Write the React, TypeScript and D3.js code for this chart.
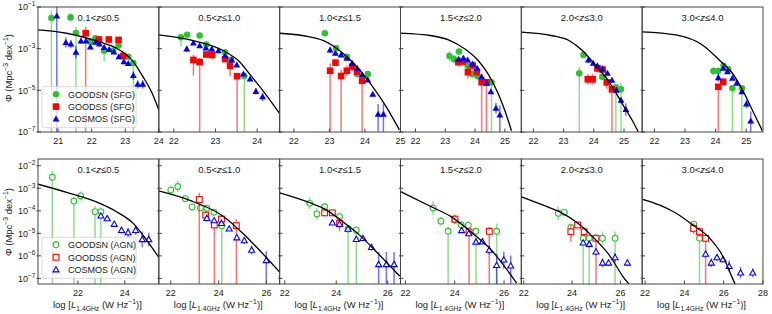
import * as d3 from 'd3'

// [logL, logPhi, err down (null = down to the axis floor), err up]
type Pt = [number, number, number | null, number]

// ---- top row: star-forming galaxies ----
const sfgN: Pt[][] = [
  [[20.80, -1.53, null, 0.35], [21.37, -1.50, 0.2, 0.2], [21.53, -2.25, null, 0.3], [21.96, -2.67, 0.15, 0.15], [22.11, -2.50, 0.1, 0.1], [22.37, -3.10, 0.5, 0.2], [22.64, -3.09, 0.15, 0.15], [22.80, -2.85, 0.1, 0.1], [23.09, -3.39, 0.15, 0.15], [23.24, -3.69, null, 0.15]],
  [[22.17, -2.45, 0.45, 0.15], [22.32, -2.33, 0.1, 0.1], [22.62, -2.37, 0.15, 0.15], [22.78, -2.80, 0.1, 0.1], [23.23, -3.17, 0.15, 0.15], [23.37, -3.54, 0.1, 0.1], [23.69, -4.31, null, 0.1]],
  [[22.87, -2.26, 0.1, 0.1], [23.19, -2.98, 0.1, 0.1], [23.49, -3.39, 0.1, 0.1], [23.78, -4.22, 0.15, 0.15], [24.08, -4.22, 0.15, 0.15]],
  [[23.14, -3.35, 0.25, 0.25], [23.29, -3.50, 0.2, 0.2], [23.46, -3.14, 0.15, 0.15], [23.75, -3.82, 0.2, 0.2], [23.91, -4.22, 0.2, 0.2], [24.08, -4.31, 0.2, 0.2], [24.55, -4.61, null, 0.1]],
  [[23.52, -4.18, null, 0.3], [23.66, -3.30, 0.1, 0.1], [24.28, -4.35, 0.15, 0.15], [24.73, -4.86, null, 0.1], [24.90, -4.95, null, 0.3]],
  [[23.93, -4.07, 0.2, 0.2], [24.09, -4.07, 0.15, 0.15], [24.26, -3.82, 0.1, 0.1], [24.41, -3.99, 0.15, 0.15], [24.55, -4.90, null, 0.1], [24.86, -4.90, null, 0.15]],
]
const sfgS: Pt[][] = [
  [[21.82, -2.26, null, 0.3], [22.22, -2.56, 0.15, 0.15], [22.51, -2.56, 0.1, 0.1], [22.80, -2.58, 0.1, 0.1], [22.94, -3.35, 0.25, 0.25]],
  [[22.47, -3.54, 0.75, 0.25], [22.62, -3.64, null, 0.2], [22.78, -3.28, 0.15, 0.15], [22.92, -3.30, 0.2, 0.2], [23.23, -3.50, 0.15, 0.15], [23.35, -3.82, 0.5, 0.2], [23.52, -4.32, null, 0.15]],
  [[23.02, -4.06, null, 0.35], [23.17, -3.67, 0.15, 0.15], [23.33, -4.31, null, 0.3], [23.49, -4.06, 0.25, 0.25], [23.64, -3.87, 0.2, 0.2], [23.78, -4.11, 0.15, 0.15], [23.92, -4.54, null, 0.15]],
  [[23.44, -3.65, 0.2, 0.2], [23.59, -3.62, 0.15, 0.15], [23.76, -4.13, 0.3, 0.3], [23.92, -3.81, 0.15, 0.15], [24.06, -4.12, 0.2, 0.2], [24.22, -4.61, null, 0.15], [24.38, -4.61, null, 0.15]],
  [[23.80, -4.47, 0.25, 0.25], [23.96, -4.47, 0.25, 0.25], [24.12, -3.95, 0.2, 0.2], [24.29, -4.00, 0.2, 0.2], [24.43, -4.62, 0.3, 0.3], [24.60, -4.95, null, 0.1]],
  [[24.09, -4.83, null, 0.15], [24.25, -4.59, 0.2, 0.2]],
]
const sfgC: Pt[][] = [
  [[20.96, -1.43, null, 0.6], [21.23, -2.70, 0.25, 0.25], [21.38, -2.78, 0.2, 0.2], [21.53, -3.17, 0.3, 0.3], [21.68, -2.63, 0.15, 0.15], [21.83, -2.63, 0.1, 0.1], [21.96, -2.92, 0.1, 0.1], [22.11, -2.69, 0.1, 0.1], [22.23, -2.78, 0.1, 0.1], [22.37, -2.94, 0.1, 0.1], [22.52, -3.04, 0.1, 0.1], [22.66, -3.16, 0.1, 0.1], [22.81, -3.39, 0.1, 0.1], [22.96, -3.63, 0.1, 0.1], [23.09, -3.71, 0.1, 0.1], [23.24, -4.29, 0.2, 0.2], [23.37, -4.71, 0.2, 0.2], [23.52, -4.71, 0.2, 0.2]],
  [[22.31, -3.02, 0.15, 0.15], [22.47, -2.73, 0.1, 0.1], [22.62, -2.86, 0.1, 0.1], [22.77, -2.97, 0.1, 0.1], [22.91, -3.02, 0.1, 0.1], [23.07, -3.10, 0.1, 0.1], [23.23, -3.34, 0.1, 0.1], [23.39, -3.54, 0.1, 0.1], [23.51, -3.78, 0.1, 0.1], [23.67, -4.22, 0.1, 0.1], [23.83, -4.46, 0.1, 0.1], [23.97, -5.05, 0.15, 0.15], [24.13, -5.31, 0.2, 0.2]],
  [[23.02, -3.06, 0.15, 0.15], [23.17, -3.22, 0.1, 0.1], [23.33, -3.30, 0.1, 0.1], [23.49, -3.46, 0.1, 0.1], [23.64, -3.70, 0.1, 0.1], [23.78, -3.94, 0.1, 0.1], [23.92, -4.26, 0.1, 0.1], [24.08, -4.50, 0.1, 0.1], [24.22, -5.19, 0.1, 0.1], [24.37, -6.15, null, 0.5], [24.52, -6.15, null, 0.5]],
  [[23.45, -3.51, 0.1, 0.1], [23.61, -3.46, 0.1, 0.1], [23.75, -3.54, 0.1, 0.1], [23.92, -3.74, 0.1, 0.1], [24.07, -3.94, 0.1, 0.1], [24.22, -4.35, 0.1, 0.1], [24.39, -4.66, 0.1, 0.1], [24.53, -5.07, 0.1, 0.1], [24.70, -5.86, 0.25, 0.25], [24.83, -6.18, null, 0.45]],
  [[23.82, -3.54, 0.15, 0.15], [23.98, -3.70, 0.1, 0.1], [24.12, -3.82, 0.1, 0.1], [24.29, -3.98, 0.1, 0.1], [24.45, -4.18, 0.1, 0.1], [24.60, -4.52, 0.1, 0.1], [24.75, -5.00, 0.1, 0.1], [24.90, -5.48, 0.15, 0.15], [25.06, -5.92, 0.3, 0.3]],
  [[24.09, -4.39, 0.2, 0.2], [24.25, -3.94, 0.1, 0.1], [24.39, -4.11, 0.1, 0.1], [24.55, -4.42, 0.1, 0.1], [24.69, -4.66, 0.1, 0.1], [24.86, -5.07, 0.1, 0.1], [25.01, -5.66, 0.2, 0.2], [25.15, -6.47, null, 0.45]],
]
// fitted LF
const sfgFit: number[][][] = [
  [[20.4, -2.10], [21.25, -2.26], [22.25, -2.69], [22.74, -2.98], [23.24, -3.63], [23.53, -4.35], [23.78, -5.07], [24.0, -5.94]],
  [[21.63, -2.34], [22.39, -2.58], [23.19, -3.10], [23.59, -3.65], [23.83, -4.25], [24.15, -5.05], [24.55, -6.14]],
  [[21.6, -2.26], [22.44, -2.43], [22.91, -2.67], [23.38, -3.22], [23.85, -4.02], [24.22, -4.83], [24.60, -5.79], [24.97, -6.90]],
  [[21.49, -2.25], [22.55, -2.38], [23.11, -2.58], [23.66, -3.02], [24.11, -3.58], [24.44, -4.22], [24.78, -5.18], [25.0, -5.98], [25.22, -6.94]],
  [[21.59, -2.21], [22.63, -2.38], [23.19, -2.62], [23.63, -3.10], [24.07, -3.82], [24.51, -4.61], [24.95, -5.66], [25.28, -6.46], [25.48, -7.02]],
  [[21.6, -2.19], [22.70, -2.34], [23.57, -2.82], [24.12, -3.54], [24.55, -4.18], [24.88, -4.98], [25.20, -5.94], [25.53, -6.94]],
]

// ---- bottom row: AGN ----
const agnN: Pt[][] = [
  [[20.91, -2.51, null, 0.3], [21.83, -3.57, null, 0.2], [22.12, -3.34, 0.2, 0.2], [22.73, -4.04, null, 0.25], [22.98, -4.04, null, 0.2]],
  [[22.00, -3.08, 0.2, 0.2], [22.29, -2.92, 0.25, 0.25], [22.61, -3.46, 0.15, 0.15], [22.89, -3.83, 0.15, 0.15], [23.24, -3.88, 0.1, 0.1], [23.51, -3.89, 0.1, 0.1], [23.80, -4.06, 0.15, 0.15], [24.13, -4.66, null, 0.1]],
  [[22.97, -3.67, 0.25, 0.25], [23.25, -4.14, 0.25, 0.25], [23.55, -3.82, 0.15, 0.15], [24.13, -4.26, 0.15, 0.15], [24.46, -4.81, null, 0.15], [24.78, -4.86, null, 0.15]],
  [[23.12, -3.88, 0.3, 0.3], [23.44, -4.46, 0.2, 0.2], [23.73, -4.91, null, 0.2], [23.99, -4.40, 0.2, 0.2], [24.26, -4.63, 0.15, 0.15], [24.55, -4.65, 0.2, 0.2], [24.86, -4.91, null, 0.15], [25.70, -4.91, null, 0.35]],
  [[23.43, -4.11, 0.3, 0.3], [23.68, -4.07, 0.1, 0.1], [23.95, -4.74, 0.2, 0.2], [24.46, -5.22, null, 0.15], [24.71, -5.22, null, 0.15], [25.26, -5.22, 0.3, 0.3], [25.78, -5.22, null, 0.3]],
  [[24.48, -4.59, 0.15, 0.15], [24.77, -5.22, null, 0.15]],
]
const agnS: Pt[][] = [
  [],
  [[23.19, -3.50, null, 0.3], [23.46, -4.19, 0.15, 0.15], [23.82, -4.63, null, 0.2], [24.12, -4.37, 0.2, 0.2], [24.74, -4.66, null, 0.3]],
  [[23.55, -4.09, 0.15, 0.15], [23.85, -4.09, 0.1, 0.1], [24.13, -4.56, 0.35, 0.25]],
  [[24.01, -4.37, 0.2, 0.2], [24.58, -4.94, null, 0.2], [25.40, -4.91, null, 0.2]],
  [[23.95, -4.93, 0.45, 0.3], [24.23, -4.63, 0.1, 0.1], [24.50, -4.93, 0.2, 0.2], [24.99, -5.22, null, 0.2]],
  [[24.47, -4.78, 0.25, 0.25], [24.77, -4.93, 0.2, 0.2], [25.08, -5.22, null, 0.2]],
]
const agnC: Pt[][] = [
  [[22.98, -4.22, 0.05, 0.05], [23.25, -4.34, 0.05, 0.05], [23.55, -4.59, 0.1, 0.1], [23.86, -4.86, 0.15, 0.15], [24.14, -4.96, 0.2, 0.2], [24.46, -4.86, 0.2, 0.2], [24.74, -5.27, 0.35, 0.35], [25.02, -5.27, 0.3, 0.3]],
  [[23.51, -4.33, 0.15, 0.15], [23.81, -4.43, 0.1, 0.1], [24.12, -4.55, 0.1, 0.1], [24.44, -4.80, 0.05, 0.05], [24.76, -5.19, 0.1, 0.1], [25.07, -5.32, 0.15, 0.15], [25.38, -5.74, 0.2, 0.2], [25.99, -6.20, null, 0.4]],
  [[23.85, -4.53, 0.1, 0.1], [24.13, -4.59, 0.15, 0.15], [24.46, -4.81, 0.1, 0.1], [24.78, -5.26, 0.1, 0.1], [25.04, -5.22, 0.1, 0.1], [25.37, -5.62, 0.15, 0.15], [25.65, -6.38, null, 0.55], [25.95, -6.38, null, 0.55], [26.25, -6.38, null, 0.55]],
  [[24.28, -4.87, 0.1, 0.1], [24.57, -5.01, 0.1, 0.1], [24.86, -5.38, 0.1, 0.1], [25.12, -5.37, 0.1, 0.1], [25.40, -5.74, 0.2, 0.2], [25.70, -6.42, null, 0.5], [25.99, -6.17, 0.4, 0.35], [26.27, -6.44, null, 0.45]],
  [[24.46, -5.42, 0.1, 0.1], [24.71, -5.48, 0.15, 0.15], [24.99, -5.82, 0.15, 0.15], [25.26, -6.31, 0.2, 0.2], [25.51, -6.31, 0.15, 0.15], [25.78, -6.07, 0.2, 0.2], [26.29, -6.31, 0.15, 0.15]],
  [[25.08, -5.92, 0.15, 0.15], [25.37, -6.31, 0.2, 0.2], [25.66, -6.07, 0.15, 0.15], [25.97, -6.16, 0.15, 0.15], [26.28, -6.46, 0.25, 0.25], [26.86, -6.75, 0.25, 0.25], [27.48, -6.75, 0.2, 0.2]],
]
const agnFit: number[][][] = [
  [[20.3, -2.82], [21.52, -3.18], [22.94, -3.67], [23.65, -4.04], [24.36, -4.56], [24.93, -5.30], [25.45, -6.07]],
  [[21.49, -3.12], [22.80, -3.54], [24.20, -4.25], [25.03, -5.02], [25.58, -5.61], [26.55, -6.72]],
  [[21.8, -3.20], [22.97, -3.64], [23.62, -3.97], [24.26, -4.49], [24.91, -5.08], [25.56, -5.82], [26.47, -6.90]],
  [[21.79, -3.14], [23.07, -3.83], [23.88, -4.28], [24.82, -5.09], [25.50, -5.76], [26.04, -6.50], [26.51, -7.21]],
  [[21.91, -3.38], [22.78, -3.74], [23.47, -4.04], [24.16, -4.49], [24.85, -5.15], [25.54, -5.97], [26.16, -7.00], [26.35, -7.25]],
  [[21.87, -3.49], [22.72, -3.74], [23.58, -4.11], [24.43, -4.63], [25.29, -5.22], [25.97, -6.04], [26.45, -7.00], [26.58, -7.25]],
]

const zEdges = ['0.1', '0.5', '1.0', '1.5', '2.0', '3.0', '4.0']
const topXDomains = [[20.4, 24], [21.64, 24.54], [21.6, 25], [21.5, 25.55], [21.6, 25.6], [21.6, 25.55]]
const botXDomains = [[20.3, 25.45], [21.5, 26.55], [21.8, 26.5], [21.8, 26.7], [21.9, 26.9], [21.85, 28]]
const topXTicks = [[21, 22, 23, 24], [22, 23, 24], [22, 23, 24, 25], [22, 23, 24, 25], [22, 23, 24, 25], [22, 23, 24, 25]]
const botXTicks = [[22, 24], [22, 24, 26], [22, 24, 26], [22, 24, 26], [22, 24, 26], [22, 24, 26, 28]]
const topYTicks = [-1, -3, -5, -7]
const botYTicks = [-2, -3, -4, -5, -6, -7]
const surveys = ['GOODSN', 'GOODSS', 'COSMOS']

const COLORS = ['#2fc42f', '#ff0000', '#0000ff']
const SHAPES = ['circle', 'square', 'triangle']
const FONT = "'Liberation Sans', Arial, Helvetica, sans-serif"
const X0 = 38
const PW = 120.83
const ROWS = [
  { y0: 7, y1: 132, yDom: [-7, -1] },
  { y0: 159, y1: 284, yDom: [-7.25, -1.7] },
]

const triPath = d3.symbol(d3.symbolTriangle, 21)() as string
const triPathOpen = d3.symbol(d3.symbolTriangle, 16)() as string

function Marker({ shape, x, y, color, open }: { shape: string; x: number; y: number; color: string; open: boolean }) {
  const fill = open ? '#fff' : color
  const sw = open ? 1.1 : 0
  if (shape === 'circle') return <circle cx={x} cy={y} r={open ? 2.9 : 3.3} fill={fill} stroke={color} strokeWidth={sw} />
  if (shape === 'square') {
    const h = open ? 2.9 : 3.3
    return <rect x={x - h} y={y - h} width={2 * h} height={2 * h} fill={fill} stroke={color} strokeWidth={sw} />
  }
  return <path d={open ? triPathOpen : triPath} transform={`translate(${x},${y + 0.5})`} fill={fill} stroke={color} strokeWidth={sw} />
}

function Pow({ x, y, e }: { x: number; y: number; e: number }) {
  return (
    <text x={x} y={y} textAnchor="end" fontSize={9} fill="#222">
      10<tspan dy={-4} fontSize={6.5}>{'\u2212' + Math.abs(e)}</tspan>
    </text>
  )
}

function Panel({ row, i }: { row: number; i: number }) {
  const R = ROWS[row]
  const x0 = X0 + i * PW
  const x = d3.scaleLinear().domain(row === 0 ? topXDomains[i] : botXDomains[i]).range([x0, x0 + PW])
  const y = d3.scaleLinear().domain(R.yDom).range([R.y1, R.y0])
  const series = row === 0 ? [sfgN[i], sfgS[i], sfgC[i]] : [agnN[i], agnS[i], agnC[i]]
  const fit = row === 0 ? sfgFit[i] : agnFit[i]
  const line = d3.line<number[]>().x((d) => x(d[0])).y((d) => y(d[1])).curve(d3.curveMonotoneX)
  const clipId = `clip-${row}-${i}`
  const xTicks = row === 0 ? topXTicks[i] : botXTicks[i]
  const yTicks = row === 0 ? topYTicks : botYTicks
  const cx = x0 + PW / 2
  return (
    <g>
      <defs>
        <clipPath id={clipId}>
          <rect x={x0} y={R.y0} width={PW} height={R.y1 - R.y0} />
        </clipPath>
      </defs>
      <g clipPath={`url(#${clipId})`}>
        {series.map((pts, s) => (
          <g key={s}>
            {pts.map((p, k) => {
              const top = y(Math.min(p[1] + p[3], R.yDom[1] + 0.5))
              const bot = p[2] === null ? R.y1 + 2 : y(p[1] - p[2])
              return (
                <line key={k} x1={x(p[0])} x2={x(p[0])} y1={top} y2={bot} stroke={COLORS[s]} strokeWidth={1.5} strokeOpacity={0.55} />
              )
            })}
            {pts.map((p, k) => (
              <Marker key={k} shape={SHAPES[s]} x={x(p[0])} y={y(p[1])} color={COLORS[s]} open={row === 1} />
            ))}
          </g>
        ))}
        <path d={line(fit) as string} fill="none" stroke="#000" strokeWidth={1.3} />
      </g>
      <rect x={x0} y={R.y0} width={PW} height={R.y1 - R.y0} fill="none" stroke="#444" strokeWidth={1} />
      {xTicks.map((t) => (
        <g key={t}>
          <line x1={x(t)} x2={x(t)} y1={R.y1} y2={R.y1 - 3.5} stroke="#444" />
          <text x={x(t)} y={R.y1 + 11.5} textAnchor="middle" fontSize={9} fill="#222">{t}</text>
        </g>
      ))}
      {yTicks.map((t) => (
        <line key={t} x1={x0 - 1.5} x2={x0 + 3} y1={y(t)} y2={y(t)} stroke="#444" />
      ))}
      {i === 0 && yTicks.map((t) => <Pow key={t} x={x0 - 2.5} y={y(t) + 3.3} e={t} />)}
      <text x={cx} y={R.y0 + 14} textAnchor="middle" fontSize={9.5} fill="#222">
        {zEdges[i]}&lt;<tspan fontStyle="italic">z</tspan>≤{zEdges[i + 1]}
      </text>
      {row === 1 && (
        <text x={cx - 1} y={308} textAnchor="middle" fontSize={9.5} fill="#222">
          log [<tspan fontStyle="italic">L</tspan>
          <tspan fontSize={6.8} dy={2.5}>1.4GHz</tspan>
          <tspan dy={-2.5}> (W Hz</tspan>
          <tspan fontSize={6.8} dy={-4}>{'\u22121'}</tspan>
          <tspan dy={4}>)]</tspan>
        </text>
      )}
    </g>
  )
}

function Legend({ top, tag, open }: { top: number; tag: string; open: boolean }) {
  return (
    <g>
      <rect x={42} y={top} width={94} height={41} rx={2} fill="#fff" fillOpacity={0.75} stroke="#d0d0d0" strokeWidth={0.8} />
      {surveys.map((s, k) => (
        <g key={s}>
          <Marker shape={SHAPES[k]} x={56} y={top + 7.5 + k * 12.4} color={COLORS[k]} open={open} />
          <text x={68} y={top + 10.8 + k * 12.4} fontSize={9} fill="#222">{`${s} (${tag})`}</text>
        </g>
      ))}
    </g>
  )
}

function YLabel({ cy }: { cy: number }) {
  return (
    <text transform={`translate(12,${cy}) rotate(-90)`} textAnchor="middle" fontSize={9.5} fill="#222">
      Φ (Mpc<tspan fontSize={6.8} dy={-4}>{'\u22123'}</tspan>
      <tspan dy={4}> dex</tspan>
      <tspan fontSize={6.8} dy={-4}>{'\u22121'}</tspan>
      <tspan dy={4}>)</tspan>
    </text>
  )
}

export default function App() {
  return (
    <svg width={772} height={314} style={{ position: 'absolute', left: 0, top: 0, display: 'block' }} fontFamily={FONT}>
      <rect width={772} height={314} fill="#fff" />
      {[0, 1].map((row) => d3.range(6).map((i) => <Panel key={`${row}-${i}`} row={row} i={i} />))}
      <Legend top={86.7} tag="SFG" open={false} />
      <Legend top={237.3} tag="AGN" open={true} />
      <YLabel cy={68} />
      <YLabel cy={222} />
    </svg>
  )
}
